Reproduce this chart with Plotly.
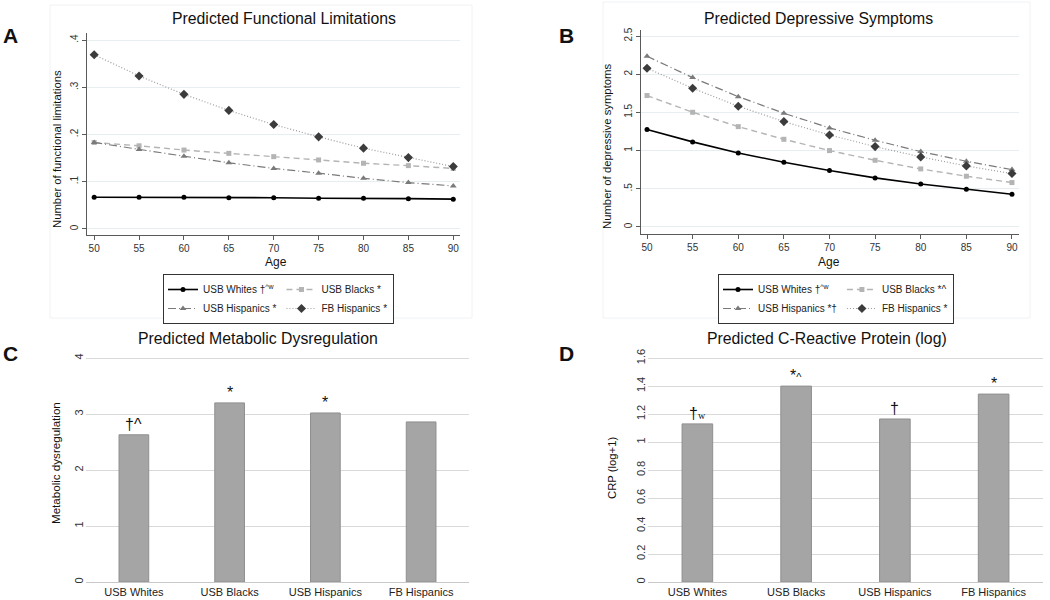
import plotly.graph_objects as go

# ---------------- data ----------------
ages = [50, 55, 60, 65, 70, 75, 80, 85, 90]

fl_usb_whites = [0.067, 0.067, 0.067, 0.066, 0.066, 0.065, 0.065, 0.064, 0.063]
fl_usb_blacks = [0.183, 0.176, 0.167, 0.160, 0.153, 0.146, 0.139, 0.134, 0.128]
fl_usb_hisp = [0.183, 0.168, 0.154, 0.140, 0.128, 0.118, 0.107, 0.098, 0.091]
fl_fb_hisp = [0.369, 0.324, 0.285, 0.251, 0.221, 0.195, 0.171, 0.151, 0.132]

dep_usb_whites = [1.275, 1.114, 0.969, 0.847, 0.738, 0.642, 0.563, 0.493, 0.428]
dep_usb_blacks = [1.721, 1.502, 1.314, 1.148, 1.000, 0.873, 0.760, 0.664, 0.581]
dep_usb_hisp = [2.236, 1.956, 1.707, 1.489, 1.297, 1.135, 0.987, 0.860, 0.751]
dep_fb_hisp = [2.079, 1.817, 1.581, 1.380, 1.205, 1.052, 0.917, 0.799, 0.699]

groups = ["USB Whites", "USB Blacks", "USB Hispanics", "FB Hispanics"]
metabolic = [2.63, 3.20, 3.02, 2.86]
crp = [1.13, 1.40, 1.165, 1.343]

metabolic_marks = ["†^", "*", "*", ""]
crp_marks = ["†<span style='font-family:Liberation Serif;font-size:10px'>w</span>",
             "*<span style='font-size:11px'>^</span>", "†", "*"]

legend_a = ["USB Whites †<sup>^w</sup>", "USB Blacks *", "USB Hispanics *", "FB Hispanics *"]
legend_b = ["USB Whites †<sup>^w</sup>", "USB Blacks *^", "USB Hispanics *†", "FB Hispanics *"]

fl_ticks = [0, 0.1, 0.2, 0.3, 0.4]
fl_ticktext = ["0", ".1", ".2", ".3", ".4"]
dep_ticks = [0, 0.5, 1, 1.5, 2, 2.5]
dep_ticktext = ["0", ".5", "1", "1.5", "2", "2.5"]

# ---------------- styles ----------------
W, H = 1050, 600
FONT = "Liberation Sans, Arial, sans-serif"

def px(x):
    return x / W

def py(y):
    return 1 - y / H

styles = [
    dict(color="#000000", dash="solid", symbol="circle", mcolor="#000000", size=5, width=1.6),
    dict(color="#b4b4b4", dash="6px,4px", symbol="square", mcolor="#b4b4b4", size=5, width=1.4),
    dict(color="#7a7a7a", dash="8px,3px,1px,3px", symbol="triangle-up", mcolor="#7a7a7a", size=6, width=1.2),
    dict(color="#9a9a9a", dash="1px,2px", symbol="diamond", mcolor="#3c3c3c", size=7, width=1.2),
]

fig = go.Figure()

fl_series = [fl_usb_whites, fl_usb_blacks, fl_usb_hisp, fl_fb_hisp]
dep_series = [dep_usb_whites, dep_usb_blacks, dep_usb_hisp, dep_fb_hisp]
grp_a = ["a1", "a2", "a1", "a2"]
grp_b = ["b1", "b2", "b1", "b2"]

for i, ys in enumerate(fl_series):
    s = styles[i]
    fig.add_trace(go.Scatter(
        x=ages, y=ys, mode="lines+markers", name=legend_a[i],
        line=dict(color=s["color"], dash=s["dash"], width=s["width"]),
        marker=dict(symbol=s["symbol"], color=s["mcolor"], size=s["size"]),
        xaxis="x", yaxis="y", legend="legend", legendgroup=grp_a[i],
    ))

for i, ys in enumerate(dep_series):
    s = styles[i]
    fig.add_trace(go.Scatter(
        x=ages, y=ys, mode="lines+markers", name=legend_b[i],
        line=dict(color=s["color"], dash=s["dash"], width=s["width"]),
        marker=dict(symbol=s["symbol"], color=s["mcolor"], size=s["size"]),
        xaxis="x2", yaxis="y2", legend="legend2", legendgroup=grp_b[i],
    ))

fig.add_trace(go.Bar(
    x=groups, y=metabolic, marker=dict(color="#a5a5a5", line=dict(color="#8f8f8f", width=1)),
    width=0.31, xaxis="x3", yaxis="y3", showlegend=False,
))
fig.add_trace(go.Bar(
    x=groups, y=crp, marker=dict(color="#a5a5a5", line=dict(color="#8f8f8f", width=1)),
    width=0.31, xaxis="x4", yaxis="y4", showlegend=False,
))

# ---------------- axes ----------------
stata_x = dict(
    tickvals=ages, showgrid=False, showline=True, linecolor="#5a5a5a", linewidth=1,
    ticks="outside", ticklen=4, tickcolor="#5a5a5a",
    tickfont=dict(family=FONT, size=10, color="#333333"), zeroline=False,
)
stata_y = dict(
    showgrid=True, gridcolor="#e6eef0", gridwidth=1, showline=True, linecolor="#5a5a5a",
    linewidth=1, ticks="outside", ticklen=4, tickcolor="#5a5a5a", tickangle=-90,
    tickfont=dict(family=FONT, size=10, color="#333333"), zeroline=False,
)
excel_x = dict(
    showgrid=False, showline=True, linecolor="#c8c8c8", linewidth=1, ticks="",
    tickfont=dict(family=FONT, size=11, color="#222222"), zeroline=False,
    ticklabelstandoff=0,
)
excel_y = dict(
    showgrid=True, gridcolor="#d9d9d9", gridwidth=1, showline=False, ticks="",
    tickangle=-90, tickfont=dict(family=FONT, size=11, color="#333333"), zeroline=False,
)

fig.update_layout(
    xaxis=dict(stata_x, domain=[px(87), px(460)], range=[49.2, 90.75], anchor="y"),
    yaxis=dict(stata_y, domain=[py(235), py(33)], range=[-0.013, 0.415], anchor="x",
               tickvals=fl_ticks, ticktext=fl_ticktext),
    xaxis2=dict(stata_x, domain=[px(641), px(1019)], range=[49.34, 90.77], anchor="y2"),
    yaxis2=dict(stata_y, domain=[py(234), py(30)], range=[-0.093, 2.58], anchor="x2",
                tickvals=dep_ticks, ticktext=dep_ticktext),
    xaxis3=dict(excel_x, domain=[px(86), px(469)], range=[-0.5, 3.5], anchor="y3"),
    yaxis3=dict(excel_y, domain=[py(582), py(357)], range=[0, 4.02], anchor="x3",
                tickvals=[0, 1, 2, 3, 4]),
    xaxis4=dict(excel_x, domain=[px(648), px(1043)], range=[-0.5, 3.5], anchor="y4"),
    yaxis4=dict(excel_y, domain=[py(582), py(357)], range=[0, 1.608], anchor="x4",
                tickvals=[0, 0.2, 0.4, 0.6, 0.8, 1, 1.2, 1.4, 1.6],
                ticktext=["0", "0.2", "0.4", "0.6", "0.8", "1", "1.2", "1.4", "1.6"]),
)

leg_common = dict(
    orientation="h", traceorder="grouped", xanchor="left", yanchor="top",
    bordercolor="#333333", borderwidth=1, bgcolor="white",
    font=dict(family=FONT, size=10, color="#222222"), tracegroupgap=14,
    itemwidth=30,
)
fig.update_layout(
    legend=dict(leg_common, x=px(163), y=py(274)),
    legend2=dict(leg_common, x=px(718), y=py(274)),
)

# ---------------- texts ----------------
ann = []

def text(x, y, t, size, bold=False, angle=0, color="#111111", xanchor="center"):
    ann.append(dict(
        x=px(x), y=py(y), xref="paper", yref="paper", text=f"<b>{t}</b>" if bold else t,
        showarrow=False, textangle=angle, xanchor=xanchor, yanchor="middle",
        font=dict(family=FONT, size=size, color=color),
    ))

text(284, 19, "Predicted Functional Limitations", 15.8)
text(818, 19, "Predicted Depressive Symptoms", 15.8)
text(258, 338, "Predicted Metabolic Dysregulation", 15.8)
text(827, 338, "Predicted C-Reactive Protein (log)", 15.8)

text(10, 35, "A", 21, bold=True)
text(566, 35, "B", 21, bold=True)
text(10, 353, "C", 21, bold=True)
text(566, 353, "D", 21, bold=True)

text(57, 149, "Number of functional limitations", 11.3, angle=-90)
text(607, 147, "Number of depressive symptoms", 11.3, angle=-90)
text(56, 463, "Metabolic dysregulation", 11.6, angle=-90)
text(612, 468, "CRP (log+1)", 11.3, angle=-90)

text(276, 262, "Age", 12)
text(829, 262, "Age", 12)

for i, g in enumerate(groups):
    if metabolic_marks[i]:
        ann.append(dict(x=g, y=metabolic[i], xref="x3", yref="y3", text=metabolic_marks[i],
                        showarrow=False, yanchor="bottom", yshift=0,
                        font=dict(family=FONT, size=16, color="#111111")))
    if crp_marks[i]:
        ann.append(dict(x=g, y=crp[i], xref="x4", yref="y4", text=crp_marks[i],
                        showarrow=False, yanchor="bottom", yshift=0,
                        font=dict(family=FONT, size=16, color="#111111")))

fig.update_layout(annotations=ann)

# faint Stata graph-region frames
fig.update_layout(shapes=[
    dict(type="rect", xref="paper", yref="paper", x0=px(50), x1=px(472), y0=py(318), y1=py(5),
         line=dict(color="#eef2f4", width=1), layer="below"),
    dict(type="rect", xref="paper", yref="paper", x0=px(603), x1=px(1030), y0=py(318), y1=py(2),
         line=dict(color="#eef2f4", width=1), layer="below"),
])

fig.update_layout(
    width=W, height=H, margin=dict(l=0, r=0, t=0, b=0, autoexpand=False),
    paper_bgcolor="white", plot_bgcolor="white", bargap=0.69,
    font=dict(family=FONT),
)

fig.write_html(
    "out.html",
    config={"displayModeBar": False},
    post_script="document.body.style.margin='0';document.body.style.overflow='hidden';",
)
